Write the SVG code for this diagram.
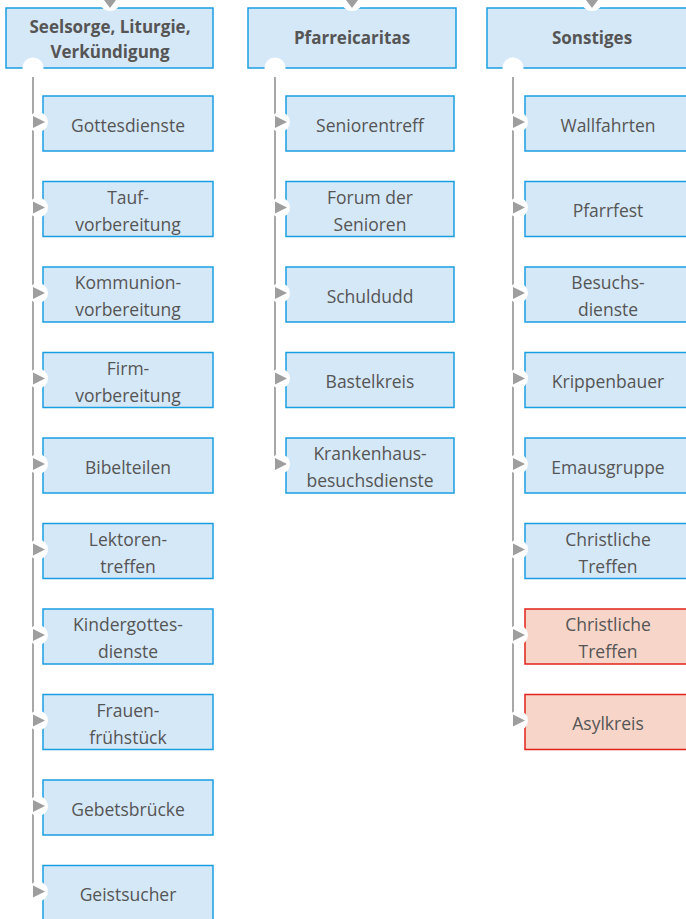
<svg xmlns="http://www.w3.org/2000/svg" width="686" height="919" viewBox="0 0 686 919">
<defs>
<style>
.hd{fill:#d5e8f8;stroke:#1a9ee2;stroke-width:1.5}
.bx{fill:#d5e8f8;stroke:#1a9ee2;stroke-width:1.5}
.rd{fill:#f7d5c9;stroke:#e2231a;stroke-width:1.5}
.ln{stroke:#a8a8a8;stroke-width:2;fill:none}
.ar{fill:#9e9e9e}
.wc{fill:#ffffff}
.t{font-family:"Open Sans","Noto Sans",sans-serif;font-size:17.5px;fill:#555555;text-anchor:middle}
.h{font-family:"Open Sans","Noto Sans",sans-serif;font-size:17px;font-weight:bold;fill:#555555;text-anchor:middle}
</style>
</defs>
<g id="headers">
<g id="h1"><rect class="hd" x="6" y="8" width="207" height="60"/><text class="h" x="110" y="33">Seelsorge, Liturgie,</text><text class="h" x="110" y="58">Verkündigung</text></g>
<g id="h2"><rect class="hd" x="248" y="8" width="208" height="60"/><text class="h" x="352" y="44">Pfarreicaritas</text></g>
<g id="h3"><rect class="hd" x="487" y="8" width="210" height="60"/><text class="h" x="592" y="44">Sonstiges</text></g>
</g>
<g id="c1n">
<g id="n1_1"><rect class="bx" x="43" y="96" width="170" height="55"/><text class="t" x="128" y="131.5">Gottesdienste</text></g>
<g id="n1_2"><rect class="bx" x="43" y="181.5" width="170" height="55"/><text class="t" x="128" y="203.5">Tauf-</text><text class="t" x="128" y="230.5">vorbereitung</text></g>
<g id="n1_3"><rect class="bx" x="43" y="267" width="170" height="55"/><text class="t" x="128" y="289">Kommunion-</text><text class="t" x="128" y="316">vorbereitung</text></g>
<g id="n1_4"><rect class="bx" x="43" y="352.5" width="170" height="55"/><text class="t" x="128" y="374.5">Firm-</text><text class="t" x="128" y="401.5">vorbereitung</text></g>
<g id="n1_5"><rect class="bx" x="43" y="438" width="170" height="55"/><text class="t" x="128" y="473.5">Bibelteilen</text></g>
<g id="n1_6"><rect class="bx" x="43" y="523.5" width="170" height="55"/><text class="t" x="128" y="545.5">Lektoren-</text><text class="t" x="128" y="572.5">treffen</text></g>
<g id="n1_7"><rect class="bx" x="43" y="609" width="170" height="55"/><text class="t" x="128" y="631">Kindergottes-</text><text class="t" x="128" y="658">dienste</text></g>
<g id="n1_8"><rect class="bx" x="43" y="694.5" width="170" height="55"/><text class="t" x="128" y="716.5">Frauen-</text><text class="t" x="128" y="743.5">frühstück</text></g>
<g id="n1_9"><rect class="bx" x="43" y="780" width="170" height="55"/><text class="t" x="128" y="815.5">Gebetsbrücke</text></g>
<g id="n1_10"><rect class="bx" x="43" y="865.5" width="170" height="55"/><text class="t" x="128" y="900.5">Geistsucher</text></g>
</g>
<g id="c2n">
<g id="n2_1"><rect class="bx" x="286" y="96" width="168" height="55"/><text class="t" x="370" y="131.5">Seniorentreff</text></g>
<g id="n2_2"><rect class="bx" x="286" y="181.5" width="168" height="55"/><text class="t" x="370" y="203.5">Forum der</text><text class="t" x="370" y="230.5">Senioren</text></g>
<g id="n2_3"><rect class="bx" x="286" y="267" width="168" height="55"/><text class="t" x="370" y="302.5">Schuldudd</text></g>
<g id="n2_4"><rect class="bx" x="286" y="352.5" width="168" height="55"/><text class="t" x="370" y="388">Bastelkreis</text></g>
<g id="n2_5"><rect class="bx" x="286" y="438" width="168" height="55"/><text class="t" x="370" y="460">Krankenhaus-</text><text class="t" x="370" y="487">besuchsdienste</text></g>
</g>
<g id="c3n">
<g id="n3_1"><rect class="bx" x="525" y="96" width="168" height="55"/><text class="t" x="608" y="131.5">Wallfahrten</text></g>
<g id="n3_2"><rect class="bx" x="525" y="181.5" width="168" height="55"/><text class="t" x="608" y="217">Pfarrfest</text></g>
<g id="n3_3"><rect class="bx" x="525" y="267" width="168" height="55"/><text class="t" x="608" y="289">Besuchs-</text><text class="t" x="608" y="316">dienste</text></g>
<g id="n3_4"><rect class="bx" x="525" y="352.5" width="168" height="55"/><text class="t" x="608" y="388">Krippenbauer</text></g>
<g id="n3_5"><rect class="bx" x="525" y="438" width="168" height="55"/><text class="t" x="608" y="473.5">Emausgruppe</text></g>
<g id="n3_6"><rect class="bx" x="525" y="523.5" width="168" height="55"/><text class="t" x="608" y="545.5">Christliche</text><text class="t" x="608" y="572.5">Treffen</text></g>
<g id="n3_7"><rect class="rd" x="525" y="609" width="168" height="55"/><text class="t" x="608" y="631">Christliche</text><text class="t" x="608" y="658">Treffen</text></g>
<g id="n3_8"><rect class="rd" x="525" y="694.5" width="168" height="55"/><text class="t" x="608" y="730">Asylkreis</text></g>
</g>
<g id="connectors">
<circle class="wc" cx="110" cy="0" r="11"/><path class="ar" d="M104,0 L116,0 L110,8 Z"/>
<circle class="wc" cx="352" cy="0" r="11"/><path class="ar" d="M346,0 L358,0 L352,8 Z"/>
<circle class="wc" cx="592" cy="0" r="11"/><path class="ar" d="M586,0 L598,0 L592,8 Z"/>
<circle class="wc" cx="33" cy="68" r="10.5"/>
<circle class="wc" cx="275" cy="68" r="10.5"/>
<circle class="wc" cx="513" cy="68" r="10.5"/>
<line class="ln" x1="33" y1="77" x2="33" y2="893"/>
<line class="ln" x1="275" y1="77" x2="275" y2="465"/>
<line class="ln" x1="513" y1="77" x2="513" y2="721"/>
<g id="arr1">
<circle class="wc" cx="38" cy="122" r="10"/><path class="ar" d="M33,116 L45,122 L33,128 Z"/>
<circle class="wc" cx="38" cy="207.5" r="10"/><path class="ar" d="M33,201.5 L45,207.5 L33,213.5 Z"/>
<circle class="wc" cx="38" cy="293" r="10"/><path class="ar" d="M33,287 L45,293 L33,299 Z"/>
<circle class="wc" cx="38" cy="378.5" r="10"/><path class="ar" d="M33,372.5 L45,378.5 L33,384.5 Z"/>
<circle class="wc" cx="38" cy="464" r="10"/><path class="ar" d="M33,458 L45,464 L33,470 Z"/>
<circle class="wc" cx="38" cy="549.5" r="10"/><path class="ar" d="M33,543.5 L45,549.5 L33,555.5 Z"/>
<circle class="wc" cx="38" cy="635" r="10"/><path class="ar" d="M33,629 L45,635 L33,641 Z"/>
<circle class="wc" cx="38" cy="720.5" r="10"/><path class="ar" d="M33,714.5 L45,720.5 L33,726.5 Z"/>
<circle class="wc" cx="38" cy="806" r="10"/><path class="ar" d="M33,800 L45,806 L33,812 Z"/>
<circle class="wc" cx="38" cy="891.5" r="10"/><path class="ar" d="M33,885.5 L45,891.5 L33,897.5 Z"/>
</g>
<g id="arr2">
<circle class="wc" cx="280" cy="122" r="10"/><path class="ar" d="M275,116 L287,122 L275,128 Z"/>
<circle class="wc" cx="280" cy="207.5" r="10"/><path class="ar" d="M275,201.5 L287,207.5 L275,213.5 Z"/>
<circle class="wc" cx="280" cy="293" r="10"/><path class="ar" d="M275,287 L287,293 L275,299 Z"/>
<circle class="wc" cx="280" cy="378.5" r="10"/><path class="ar" d="M275,372.5 L287,378.5 L275,384.5 Z"/>
<circle class="wc" cx="280" cy="464" r="10"/><path class="ar" d="M275,458 L287,464 L275,470 Z"/>
</g>
<g id="arr3">
<circle class="wc" cx="518" cy="122" r="10"/><path class="ar" d="M513,116 L525,122 L513,128 Z"/>
<circle class="wc" cx="518" cy="207.5" r="10"/><path class="ar" d="M513,201.5 L525,207.5 L513,213.5 Z"/>
<circle class="wc" cx="518" cy="293" r="10"/><path class="ar" d="M513,287 L525,293 L513,299 Z"/>
<circle class="wc" cx="518" cy="378.5" r="10"/><path class="ar" d="M513,372.5 L525,378.5 L513,384.5 Z"/>
<circle class="wc" cx="518" cy="464" r="10"/><path class="ar" d="M513,458 L525,464 L513,470 Z"/>
<circle class="wc" cx="518" cy="549.5" r="10"/><path class="ar" d="M513,543.5 L525,549.5 L513,555.5 Z"/>
<circle class="wc" cx="518" cy="635" r="10"/><path class="ar" d="M513,629 L525,635 L513,641 Z"/>
<circle class="wc" cx="518" cy="720.5" r="10"/><path class="ar" d="M513,714.5 L525,720.5 L513,726.5 Z"/>
</g>
</g>
</svg>
